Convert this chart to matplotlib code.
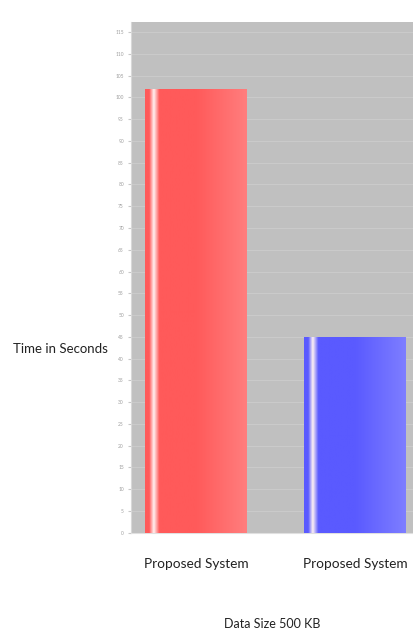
import numpy as np
import matplotlib.pyplot as plt
from matplotlib.colors import LinearSegmentedColormap, to_rgb

categories = ["Proposed System", "Proposed System"]
values = [102, 45]
bar_colors = ["#ff5a5a", "#5a5aff"]
yticks = list(range(0, 120, 5))

plt.rcParams["font.family"] = ["Lato", "DejaVu Sans"]

fig = plt.figure(figsize=(4.14, 6.35), dpi=100)
ax = fig.add_axes([0.316, 0.161, 0.684, 0.805])
ax.set_facecolor("#c0c0c0")

x = np.arange(len(categories))
bars = ax.bar(x, values, width=0.635, color=bar_colors, zorder=2)

# shaded cylinder look: white highlight near the left edge, lighter toward the right
for rect, c in zip(bars, bar_colors):
    base = np.array(to_rgb(c))
    light = np.minimum(base + 0.14, 1)
    cmap = LinearSegmentedColormap.from_list(
        "g", [(0.0, base), (0.04, base), (0.085, (1, 0.95, 0.95)), (0.14, base), (0.5, base), (1.0, light)])
    grad = np.linspace(0, 1, 256).reshape(1, -1)
    x0, w, h = rect.get_x(), rect.get_width(), rect.get_height()
    im = ax.imshow(grad, cmap=cmap, aspect="auto", extent=(x0, x0 + w, 0, h), zorder=3)
    im.set_clip_path(rect)

ax.set_xlim(-0.409, 1.371)
ax.set_ylim(0, 117.4)
ax.set_yticks(yticks)
ax.set_yticklabels([str(v) for v in yticks], fontsize=3.5, color="#a0a0a0")
ax.set_xticks(x)
ax.set_xticklabels(categories, fontsize=9.8, color="#222222")
ax.tick_params(axis="x", length=0, pad=18)
ax.tick_params(axis="y", length=2, color="#c8c8c8", pad=3)
ax.grid(True, axis="y", color="#cdcdcd", linewidth=0.6)
ax.set_axisbelow(True)
for s in ["top", "right"]:
    ax.spines[s].set_visible(False)
ax.spines["left"].set_color("#d8d8d8")
ax.spines["bottom"].set_color("#e0e0e0")

ax.set_ylabel("Time in Seconds", fontsize=9.5, color="#222222", rotation=0, labelpad=0)
ax.yaxis.set_label_coords(-0.249, 0.347)
ax.set_xlabel("Data Size 500 KB", fontsize=9, color="#222222", labelpad=35)

fig.savefig("out.png", dpi=100)
